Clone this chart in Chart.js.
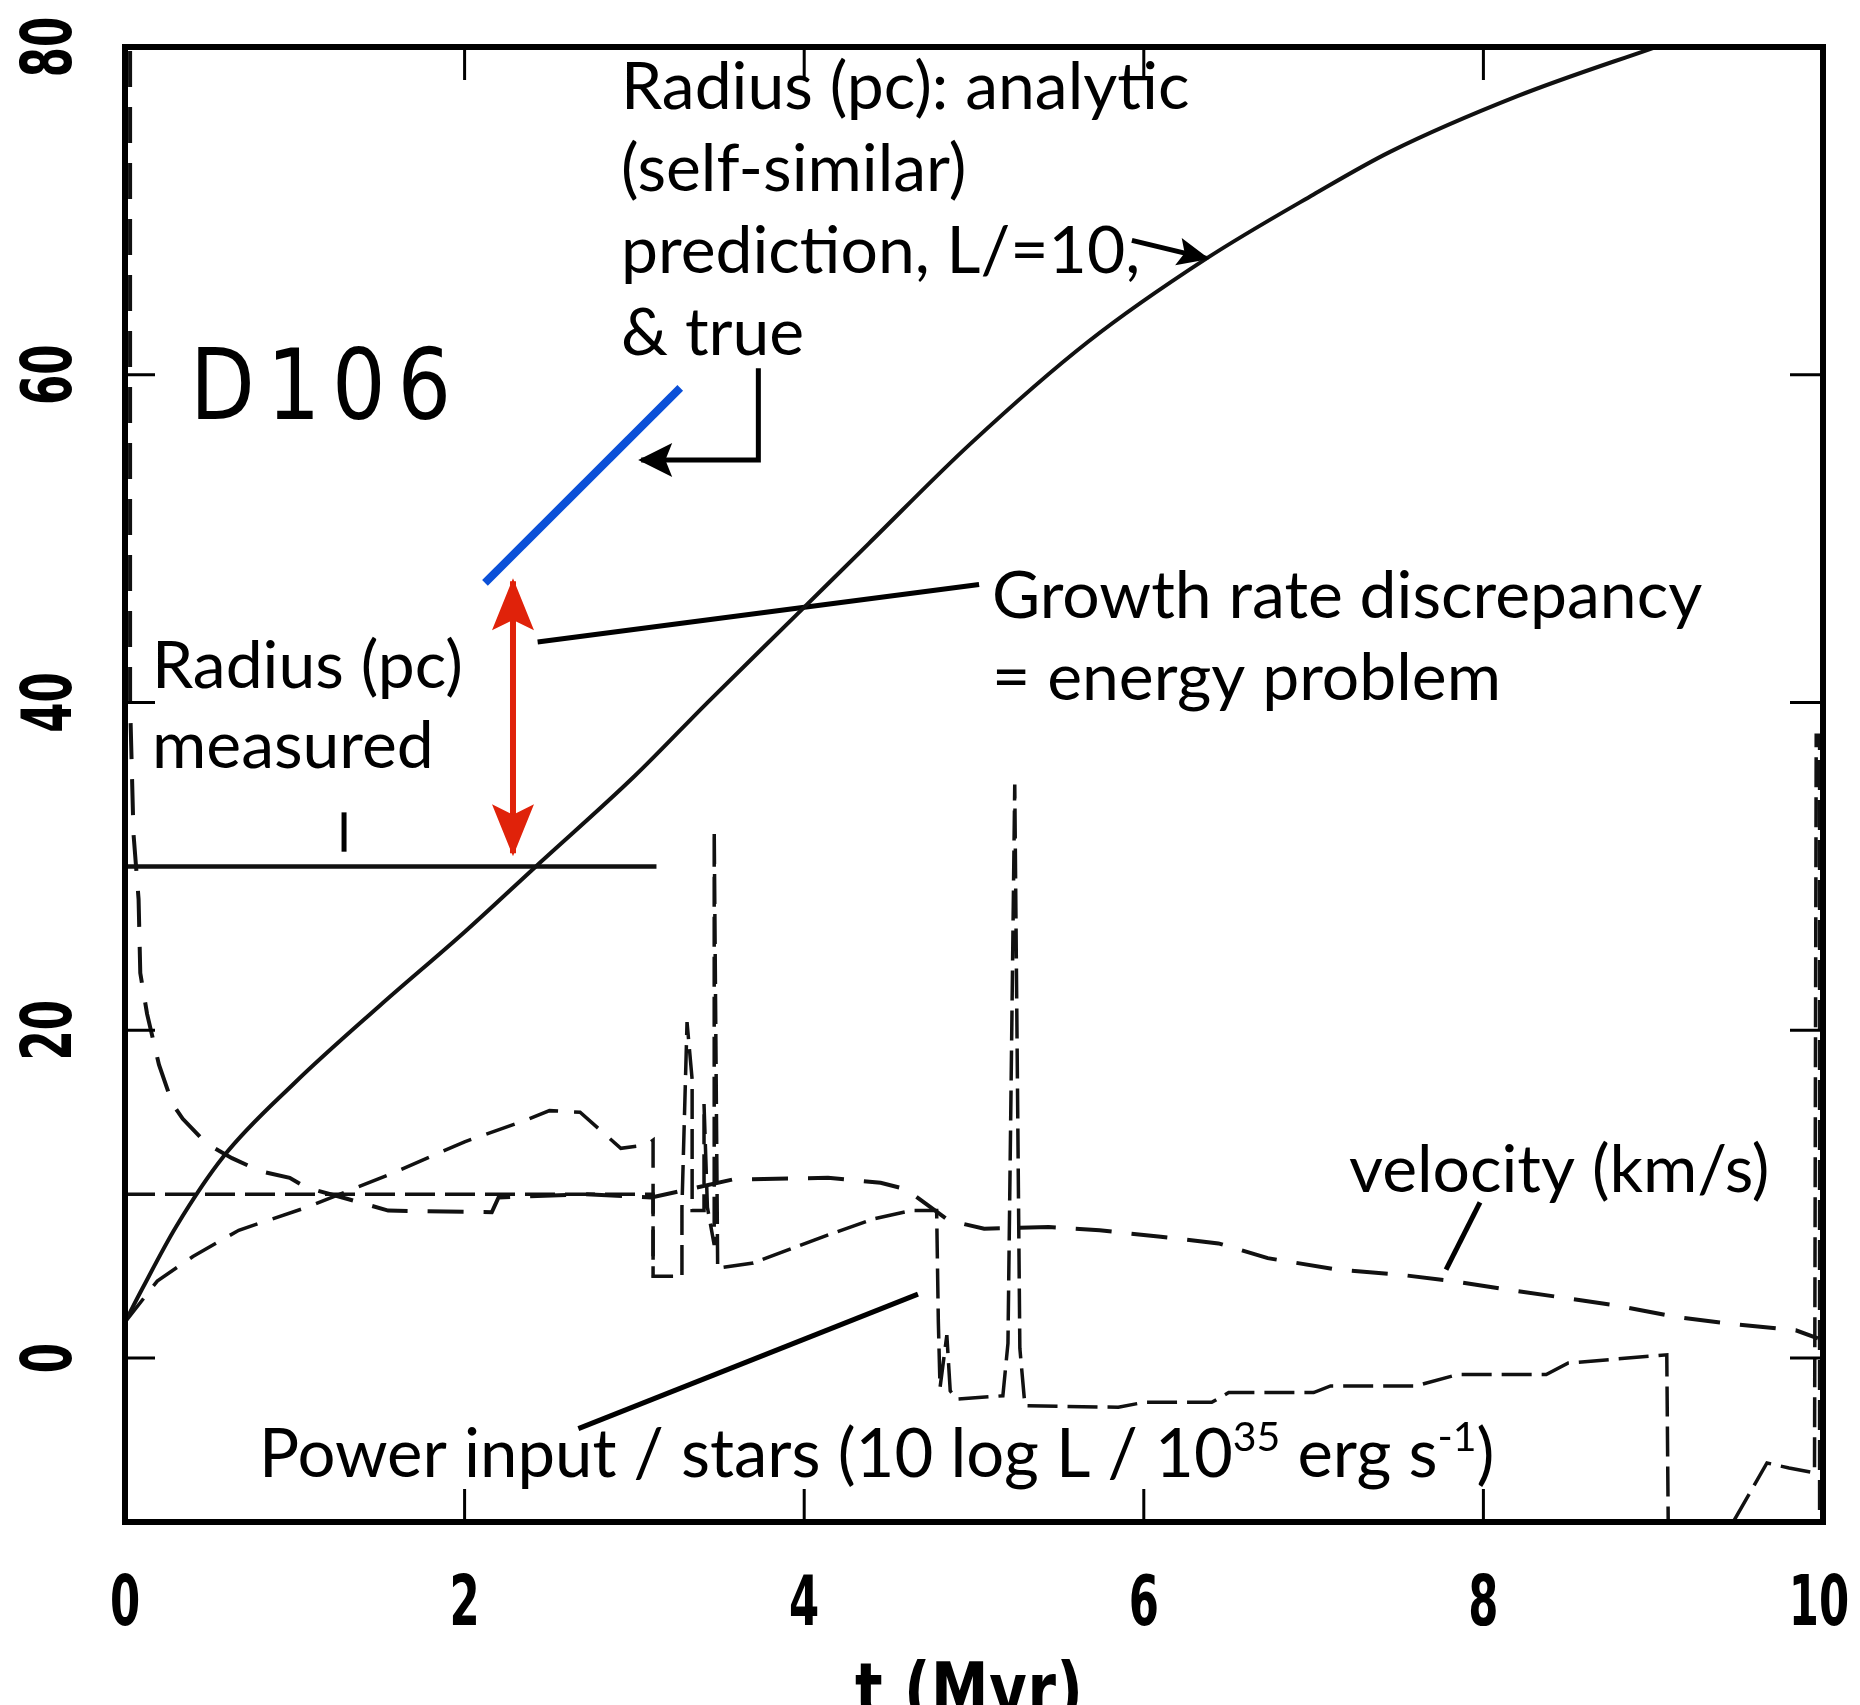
<!DOCTYPE html>
<html>
<head>
<meta charset="utf-8">
<script src="https://cdn.jsdelivr.net/npm/chart.js@4.4.1/dist/chart.umd.min.js"></script>
<style>
  html, body { margin: 0; padding: 0; background: #fff; }
  #wrap { width: 1860px; height: 1705px; }
</style>
</head>
<body>
<div id="wrap"><canvas id="chart" width="1860" height="1705"></canvas></div>
<script>
// --- Data (t in Myr) ---
const xTicks = [0, 2, 4, 6, 8, 10];
const yTicks = [0, 20, 40, 60, 80];

// analytic (self-similar) radius, pc
const radiusT  = [0, 0.1, 0.3, 0.58, 1.0, 1.5, 2.0, 2.42, 3.0, 3.43, 3.95, 4.38, 4.98, 5.67, 6.37, 7.0, 7.45, 8.2, 8.96, 9.3];
const radiusPc = [2.2, 4.2, 8.0, 12.3, 16.8, 21.5, 26.0, 30.0, 35.5, 40.0, 45.3, 49.7, 55.8, 62.0, 67.1, 71.0, 73.6, 77.0, 79.8, 81.0];

// shell velocity, km/s
const velT   = [0.03, 0.03, 0.05, 0.08, 0.09, 0.13, 0.2, 0.28, 0.34, 0.48, 0.63, 0.8, 0.97, 1.07, 1.28, 1.55, 2.16, 2.2, 2.7, 3.1, 3.58, 4.14, 4.45, 4.6, 4.85, 5.06, 5.44, 5.74, 6.1, 6.44, 6.73, 7.14, 7.5, 7.82, 8.13, 8.46, 8.79, 9.14, 9.45, 9.84, 9.97];
const velKms = [90, 40, 32, 28, 23.5, 21, 17.9, 15.5, 14.6, 13.1, 12.2, 11.4, 11.0, 10.4, 9.8, 9.0, 8.9, 9.8, 10.0, 9.8, 10.9, 11.0, 10.7, 10.3, 8.4, 7.9, 8.0, 7.8, 7.4, 7.0, 6.1, 5.4, 5.1, 4.7, 4.2, 3.7, 3.2, 2.5, 2.1, 1.7, 1.2];

// early rising curve
const humpT = [0, 0.19, 0.4, 0.67, 1.07, 1.58, 2.0, 2.33, 2.5, 2.68, 2.92, 3.07, 3.11, 3.11];
const humpV = [2.2, 4.7, 6.2, 7.8, 9.2, 11.3, 13.2, 14.4, 15.1, 15.0, 12.8, 13.0, 13.3, 5.0];

// power input / stars, 10 log L/1e35 (null = break in the line)
const powerT = [0, 3.11, 3.11, 3.28, 3.28, 3.31, 3.34, 3.34, 3.41, 3.41, 3.43, 3.47, 3.47, 3.49, 3.49, 3.7, 3.98, 4.11, 4.41, 4.63, 4.78, 4.79, 4.8, 4.84, 4.86, 4.9, 5.17, 5.2, 5.24, 5.27, 5.3, 5.85, 6.0, 6.4, 6.5, 7.0, 7.1, 7.6, 7.85, 8.37, 8.5, 9.08, 9.09, 9.2, 9.36, 9.67, 9.8, 9.95, 9.96, 9.98, 9.98];
const powerV = [10, 10, 5.0, 5.0, 9.2, 20.5, 17, 9.0, 9.0, 15.5, 9.2, 6.9, 32.2, 6.0, 5.5, 5.8, 6.9, 7.4, 8.5, 9.0, 9.0, 2.2, -1.8, 1.4, -2.0, -2.5, -2.3, 0.9, 35, 0.6, -2.9, -3.0, -2.7, -2.7, -2.1, -2.1, -1.7, -1.7, -1.0, -1.0, -0.3, 0.2, -12, null, -12, -6.4, -6.7, -7.0, 38, 38, -12];

// measured radius and age mark
const measT = [0, 3.13];
const measV = [30, 30];
const markT = [1.29, 1.29];
const markV = [30.9, 33.3];

// overlay annotations
const blueT = [2.12, 3.27];
const blueV = [47.3, 59.2];
const redT = [2.285, 2.285];
const redV = [30.8, 47.4];
const growthPtrT = [2.43, 5.03];
const growthPtrV = [43.7, 47.2];
const trueArrowT = [3.73, 3.73, 3.04];
const trueArrowV = [60.4, 54.8, 54.8];
const analyticArrowT = [5.93, 6.37];
const analyticArrowV = [68.2, 67.1];
const velPtrT = [7.98, 7.78];
const velPtrV = [9.5, 5.4];
const powerPtrT = [2.67, 4.67];
const powerPtrV = [-4.3, 3.9];

const pts = (xs, ys) => xs.map((x, i) => ({ x: x, y: ys[i] }));

function series(xs, ys, color, width, dash, smooth) {
    return {
        data: pts(xs, ys),
        borderColor: color,
        borderWidth: width,
        borderDash: dash || [],
        pointRadius: 0,
        tension: smooth ? 0.4 : 0,
        cubicInterpolationMode: smooth ? 'monotone' : 'default',
        fill: false,
        spanGaps: false
    };
}

const datasets = [
    series(radiusT, radiusPc, '#111', 4, null, true),
    series(velT, velKms, '#111', 4, [36, 20]),
    series(humpT, humpV, '#111', 3.5, [30, 16]),
    series(powerT, powerV, '#111', 3.5, [30, 10]),
    series(measT, measV, '#111', 4.5),
    series(markT, markV, '#000', 5),
    series(blueT, blueV, '#0b50d8', 8),
    series(redT, redV, '#e0220a', 6),
    series(growthPtrT, growthPtrV, '#000', 5),
    series(trueArrowT, trueArrowV, '#000', 5),
    series(analyticArrowT, analyticArrowV, '#000', 5),
    series(velPtrT, velPtrV, '#000', 5),
    series(powerPtrT, powerPtrV, '#000', 5)
];

// --- helpers for the overlay ---
function arrowHead(ctx, fx, fy, tx, ty, len, half, color) {
    const ang = Math.atan2(ty - fy, tx - fx);
    const ex = tx + Math.cos(ang) * 3, ey = ty + Math.sin(ang) * 3;
    ctx.fillStyle = color;
    ctx.beginPath();
    ctx.moveTo(ex, ey);
    ctx.lineTo(ex - Math.cos(ang) * len - Math.sin(ang) * half, ey - Math.sin(ang) * len + Math.cos(ang) * half);
    ctx.lineTo(ex - Math.cos(ang) * len * 0.8, ey - Math.sin(ang) * len * 0.8);
    ctx.lineTo(ex - Math.cos(ang) * len + Math.sin(ang) * half, ey - Math.sin(ang) * len - Math.cos(ang) * half);
    ctx.closePath();
    ctx.fill();
}

// narrow text: squeeze horizontally by sx, centred on (x, y)
function narrowText(ctx, str, x, y, sx) {
    ctx.save();
    ctx.translate(x, y);
    ctx.scale(sx, 1);
    ctx.textAlign = 'center';
    ctx.fillText(str, 0, 0);
    ctx.restore();
}

// spread characters so the label spans targetWidth (squeezed by sx)
function spacedText(ctx, str, x, y, targetWidth, sx) {
    ctx.save();
    ctx.translate(x, y);
    ctx.scale(sx, 1);
    ctx.textAlign = 'left';
    const chars = [...str];
    const natural = chars.reduce((s, c) => s + ctx.measureText(c).width, 0);
    const gap = chars.length > 1 ? (targetWidth / sx - natural) / (chars.length - 1) : 0;
    let cx = 0;
    chars.forEach(c => { ctx.fillText(c, cx, 0); cx += ctx.measureText(c).width + gap; });
    ctx.restore();
}

const TICK_FONT = '"DejaVu Sans", sans-serif';
const NOTE_FONT = 'Lato, "Open Sans", sans-serif';

const overlay = {
    id: 'overlay',
    afterDatasetsDraw(chart) {
        const { ctx, chartArea: a, scales: { x, y } } = chart;
        ctx.save();

        // inward tick marks
        ctx.strokeStyle = '#000';
        ctx.lineWidth = 3;
        ctx.beginPath();
        xTicks.slice(1, -1).forEach(v => {
            const px = x.getPixelForValue(v);
            ctx.moveTo(px, a.bottom); ctx.lineTo(px, a.bottom - 33);
            ctx.moveTo(px, a.top); ctx.lineTo(px, a.top + 33);
        });
        yTicks.slice(0, -1).forEach(v => {
            const py = y.getPixelForValue(v);
            ctx.moveTo(a.left, py); ctx.lineTo(a.left + 30, py);
            ctx.moveTo(a.right, py); ctx.lineTo(a.right - 33, py);
        });
        ctx.stroke();

        // frame
        ctx.lineWidth = 6;
        ctx.strokeRect(a.left, a.top, a.right - a.left, a.bottom - a.top);

        // arrowheads
        const px = (t) => x.getPixelForValue(t);
        const py = (v) => y.getPixelForValue(v);
        arrowHead(ctx, px(redT[0]), py(redV[0]), px(redT[1]), py(redV[1]), 52, 21, '#e0220a');
        arrowHead(ctx, px(redT[1]), py(redV[1]), px(redT[0]), py(redV[0]), 52, 21, '#e0220a');
        arrowHead(ctx, px(trueArrowT[1]), py(trueArrowV[1]), px(trueArrowT[2]), py(trueArrowV[2]), 34, 17, '#000');
        arrowHead(ctx, px(analyticArrowT[0]), py(analyticArrowV[0]), px(analyticArrowT[1]), py(analyticArrowV[1]), 32, 14, '#000');

        // tick labels (old plotter digits: tall and narrow)
        ctx.fillStyle = '#000';
        ctx.font = 'bold 70px ' + TICK_FONT;
        ctx.textBaseline = 'middle';
        xTicks.forEach(v => narrowText(ctx, String(v), px(v) - (v === 10 ? 4 : 0), 1607, 0.62));
        yTicks.forEach(v => {
            ctx.save();
            ctx.translate(53, py(v));
            ctx.rotate(-Math.PI / 2);
            narrowText(ctx, String(v), 0, 0, 0.62);
            ctx.restore();
        });

        // axis title, cut by the bottom edge as in the scan
        ctx.textBaseline = 'alphabetic';
        ctx.font = 'bold 74px ' + TICK_FONT;
        spacedText(ctx, 't (Myr)', 855, 1716, 228, 0.78);

        // panel label
        ctx.font = '98px ' + TICK_FONT;
        spacedText(ctx, 'D106', 190, 419, 261, 0.86);

        // annotations
        ctx.font = '66px ' + NOTE_FONT;
        ctx.textAlign = 'left';
        ['Radius (pc): analytic', '(self-similar)', 'prediction, L/=10,', '& true']
            .forEach((s, i) => ctx.fillText(s, 621, 109 + i * 82));
        ctx.fillText('Radius (pc)', 152, 688);
        ctx.fillText('measured', 152, 768);
        ctx.fillText('Growth rate discrepancy', 992, 618);
        ctx.fillText('= energy problem', 992, 700);
        ctx.fillText('velocity (km/s)', 1349, 1192);

        // power input label with superscripts
        let cx = 259;
        const base = 1477;
        const parts = [
            ['Power input / stars (10 log L / 10', 67, 0],
            ['35', 41, -26],
            [' erg s', 67, 0],
            ['-1', 41, -26],
            [')', 67, 0]
        ];
        parts.forEach(([s, size, dy]) => {
            ctx.font = size + 'px ' + NOTE_FONT;
            ctx.fillText(s, cx, base + dy);
            cx += ctx.measureText(s).width;
        });

        ctx.restore();
    }
};

new Chart(document.getElementById('chart'), {
    type: 'line',
    data: { datasets: datasets },
    options: {
        responsive: false,
        devicePixelRatio: 1,
        animation: false,
        layout: { padding: { left: 125, right: 37, top: 47, bottom: 183 } },
        plugins: { legend: { display: false }, tooltip: { enabled: false } },
        scales: {
            x: { type: 'linear', min: 0, max: 10, display: false },
            y: { type: 'linear', min: -10, max: 80, display: false }
        }
    },
    plugins: [overlay]
});
</script>
</body>
</html>
